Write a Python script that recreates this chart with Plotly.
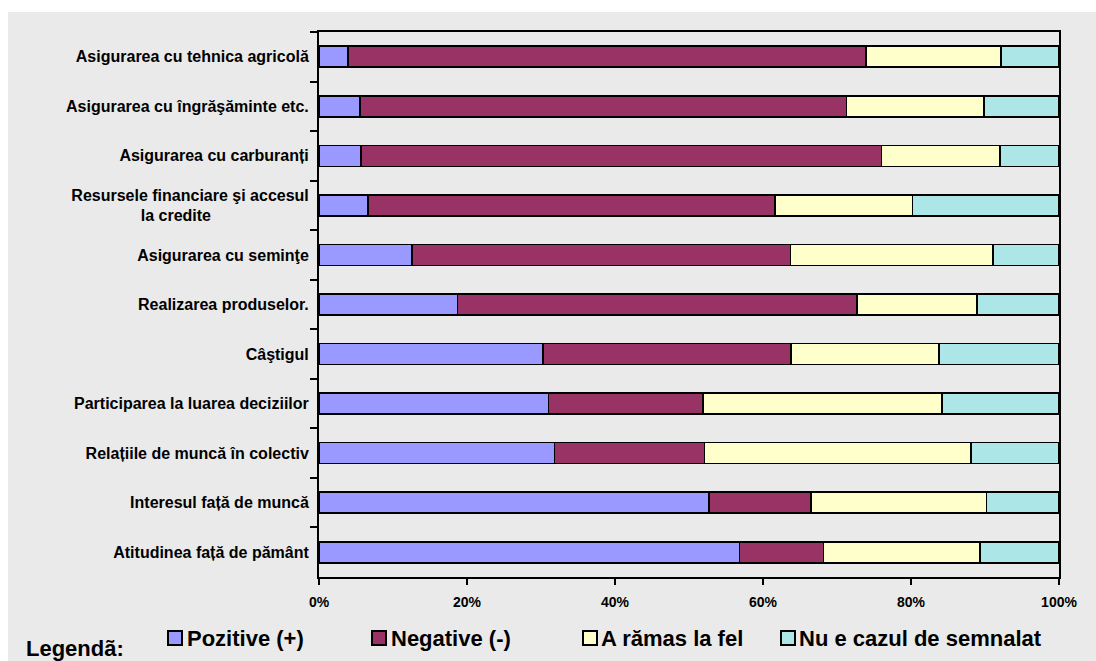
import plotly.graph_objects as go

categories = [
    "Asigurarea cu tehnica agricolă",
    "Asigurarea cu îngrăşăminte etc.",
    "Asigurarea cu carburanți",
    "Resursele financiare şi accesul<br>la credite" + "\u00a0" * 22,
    "Asigurarea cu seminţe",
    "Realizarea produselor.",
    "Câştigul",
    "Participarea la luarea deciziilor",
    "Relațiile de muncă în colectiv",
    "Interesul față de muncă",
    "Atitudinea față de pământ",
]

pozitive = [3.9, 5.5, 5.7, 6.6, 12.6, 18.7, 30.3, 31.0, 31.8, 52.7, 56.8]
negative = [70.0, 65.8, 70.3, 55.0, 51.1, 54.0, 33.5, 20.9, 20.3, 13.8, 11.4]
la_fel = [18.3, 18.6, 16.0, 18.6, 27.4, 16.2, 20.0, 32.3, 36.0, 23.7, 21.1]
nu_e_cazul = [7.8, 10.1, 8.0, 19.8, 8.9, 11.1, 16.2, 15.8, 11.9, 9.8, 10.7]

series_names = ["Pozitive (+)", "Negative (-)", "A rămas la fel", "Nu e cazul de semnalat"]
series_values = [pozitive, negative, la_fel, nu_e_cazul]
series_colors = ["#9999FF", "#993366", "#FFFFCC", "#ADE6E6"]

x_ticks = [0, 20, 40, 60, 80, 100]
x_ticklabels = ["0%", "20%", "40%", "60%", "80%", "100%"]

FONT = "Liberation Sans, Arial, sans-serif"
BG = "#EAEAEA"

W, H = 1096, 661
L, R, T, B = 319, 1096 - 1059, 32, 661 - 577
pw, ph = W - L - R, H - T - B


def fx(page_x):
    return (page_x - L) / pw


def fy(page_y):
    return (H - B - page_y) / ph


fig = go.Figure()
for name, vals, color in zip(series_names, series_values, series_colors):
    fig.add_trace(go.Bar(
        y=categories, x=vals, name=name, orientation="h",
        marker=dict(color=color, line=dict(color="black", width=1.6)),
        hoverinfo="skip", showlegend=False,
    ))

# hand-drawn legend (swatch + label), matching the reference spacing
legend_swatch_x = [168, 372, 583, 781]
legend_text_x = [185, 389, 599, 797]
legend_y = 638
shapes = [
    dict(type="rect", xref="paper", yref="paper",
         x0=fx(0), x1=fx(W), y0=fy(12), y1=fy(0),
         fillcolor="white", line=dict(width=0), layer="above"),
    dict(type="rect", xref="paper", yref="paper",
         x0=fx(0), x1=fx(8), y0=fy(H), y1=fy(0),
         fillcolor="white", line=dict(width=0), layer="above"),
]
annotations = [
    dict(text="Legendã:", xref="paper", yref="paper",
         x=fx(24), xanchor="left", y=fy(648), yanchor="middle",
         showarrow=False,
         font=dict(family=FONT, size=22, weight="bold", color="black")),
]
for name, color, sx, tx in zip(series_names, series_colors, legend_swatch_x, legend_text_x):
    shapes.append(dict(
        type="rect", xref="paper", yref="paper",
        x0=fx(sx), x1=fx(sx + 14), y0=fy(legend_y + 7), y1=fy(legend_y - 7),
        fillcolor=color, line=dict(color="black", width=2), layer="above"))
    annotations.append(dict(
        text=name, xref="paper", yref="paper",
        x=fx(tx), xanchor="left", y=fy(legend_y), yanchor="middle",
        showarrow=False,
        font=dict(family=FONT, size=22, weight="bold", color="black")))

fig.update_layout(
    width=W, height=H, autosize=False,
    margin=dict(l=L, r=R, t=T, b=B, pad=0),
    barmode="stack",
    bargap=0.576,
    paper_bgcolor=BG,
    plot_bgcolor=BG,
    font=dict(family=FONT, color="black"),
    showlegend=False,
    xaxis=dict(
        range=[0, 100], tickvals=x_ticks, ticktext=x_ticklabels,
        showgrid=False, zeroline=False,
        showline=True, linecolor="black", linewidth=2, mirror=True,
        ticks="outside", ticklen=6, tickwidth=2, tickcolor="black",
        ticklabelstandoff=5,
        tickfont=dict(family=FONT, size=14, weight="bold", color="black"),
        fixedrange=True,
    ),
    yaxis=dict(
        type="category", categoryorder="array", categoryarray=categories,
        autorange="reversed",
        showgrid=False, zeroline=False,
        showline=True, linecolor="black", linewidth=2, mirror=True,
        ticks="outside", ticklen=7, tickwidth=2, tickcolor="black",
        tickson="boundaries",
        ticklabelstandoff=5,
        tickfont=dict(family=FONT, size=16, weight="bold", color="black"),
        fixedrange=True,
    ),
    shapes=shapes,
    annotations=annotations,
)

fig.write_html(
    "out.html",
    config={"displayModeBar": False},
    post_script=(
        "document.body.style.margin='0';"
        "document.body.style.overflow='hidden';"
        "document.body.style.background='" + BG + "';"
        "document.documentElement.style.background='" + BG + "';"
    ),
)
